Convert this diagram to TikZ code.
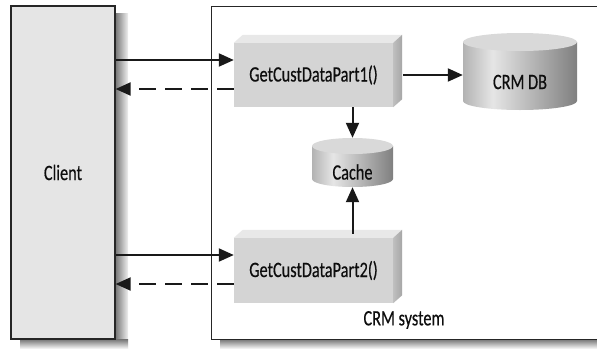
\documentclass[tikz,border=0pt]{standalone}
\usepackage{fontspec}
\setmainfont[FakeStretch=0.74,FakeBold=0.4]{Carlito}
\usetikzlibrary{arrows.meta}
\pgfdeclarehorizontalshading{cylbody}{100bp}{color(0bp)=(black!30); color(25bp)=(black!30); color(38bp)=(black!10); color(75bp)=(black!50); color(100bp)=(black!50)}
\begin{document}
\begin{tikzpicture}[x=1pt,y=-1pt,
  arr/.style={line width=2pt,draw=black!90,-{Triangle[length=15pt,width=13pt]}},
  darr/.style={arr,dash pattern=on 17pt off 9pt},
  lbl/.style={font=\fontsize{22}{26}\selectfont, text=black!95},
  frontface/.style={fill=black!17, inner sep=0pt, lbl},
  topface/.style={fill=black!9},
  sideface/.style={left color=black!25, right color=black!35},
  cylbody/.style={shading=cylbody},
  cyltop/.style={fill=black!15},
  shadowR/.style={left color=black!55, right color=black!6},
  shadowB/.style={top color=black!55, bottom color=black!6},
]
\useasboundingbox (0,0) rectangle (597,349);
\clip (0,0) rectangle (597,349);

% shadows
\shade[shadowR] (115,13) rectangle (128,348);
\shade[shadowB] (20,339) rectangle (128,348);
\shade[shadowB] (220,339) rectangle (600,348);

% client
\node[draw=black!85, line width=1.2pt, fill=black!10, inner sep=0pt,
      minimum width=104pt, minimum height=333pt, lbl] (client) at (63,172.5) {Client};

% CRM system
\node[draw=black!85, line width=1pt, fill=white, inner sep=0pt,
      minimum width=430pt, minimum height=333pt] (crm) at (426,172.5) {};
\node[lbl] (crml) at (404,320) {CRM system};

% Part1 box
\node[frontface, minimum width=159pt, minimum height=64pt] (p1) at (313.5,75) {GetCustDataPart1()};
\fill[topface] (p1.north west) -- ++(9,-8) -- ([shift={(9,-8)}]p1.north east) -- (p1.north east) -- cycle;
\shade[sideface] (p1.north east) -- ([shift={(9,-8)}]p1.north east) -- ([shift={(9,-8)}]p1.south east) -- (p1.south east) -- cycle;

% Part2 box
\node[frontface, minimum width=159pt, minimum height=65pt] (p2) at (313.5,270.5) {GetCustDataPart2()};
\fill[topface] (p2.north west) -- ++(9,-8) -- ([shift={(9,-8)}]p2.north east) -- (p2.north east) -- cycle;
\shade[sideface] (p2.north east) -- ([shift={(9,-8)}]p2.north east) -- ([shift={(9,-8)}]p2.south east) -- (p2.south east) -- cycle;

% CRM DB cylinder
\shade[cylbody] (463,42) -- (463,101) arc[start angle=180, end angle=0, x radius=57, y radius=9] -- (577,42) -- cycle;
\fill[cyltop] (520,42) ellipse [x radius=57, y radius=9];
\node[inner sep=0pt, minimum width=114pt, minimum height=77pt] (db) at (520,71.5) {};
\node[lbl] (dbt) at (520,82) {CRM DB};

% Cache cylinder
\shade[cylbody] (312,146) -- (312,179) arc[start angle=180, end angle=0, x radius=40.5, y radius=8] -- (393,146) -- cycle;
\fill[cyltop] (352.5,146) ellipse [x radius=40.5, y radius=8];
\node[inner sep=0pt, minimum width=81pt, minimum height=49pt] (cache) at (352.5,162.5) {};
\node[lbl] (cachet) at (352.5,172) {Cache};

% connectors
\coordinate (p1in) at ([yshift=15pt]p1.west);
\coordinate (p1out) at ([yshift=-14pt]p1.west);
\draw[arr] (client.east |- p1in) -- (p1in);
\draw[darr] (p1out) -- (client.east |- p1out);

\coordinate (p2in) at ([yshift=15.5pt]p2.west);
\coordinate (p2out) at ([yshift=-13.5pt]p2.west);
\draw[arr] (client.east |- p2in) -- (p2in);
\draw[darr] (p2out) -- (client.east |- p2out);

\path (p1.east) ++(10,0) coordinate (p1e);
\draw[arr] (p1e) -- (db.west |- p1e);
\draw[arr] (cache.north |- p1.south) -- (cache.north);
\path (cache.south |- p2.north) ++(0,-4) coordinate (c2);
\draw[arr] (c2) -- (cache.south);
\end{tikzpicture}
\end{document}
